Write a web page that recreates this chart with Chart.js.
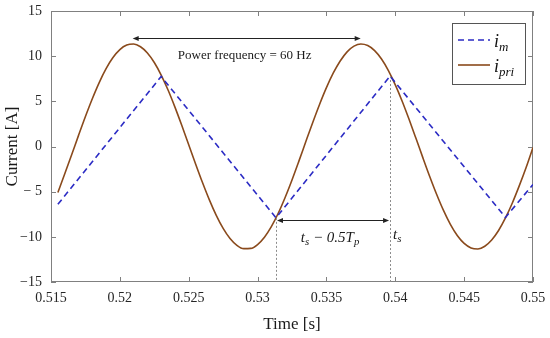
<!DOCTYPE html>
<html>
<head>
<meta charset="utf-8">
<script src="https://cdn.jsdelivr.net/npm/chart.js@4.4.0/dist/chart.umd.min.js"></script>
<style>
body { margin: 0; background: #fff; }
</style>
</head>
<body>
<canvas id="myChart" width="550" height="338"></canvas>
<script>
// axis ticks
const xTicks = [0.515, 0.52, 0.525, 0.53, 0.535, 0.54, 0.545, 0.55];
const xTickLabels = ['0.515', '0.52', '0.525', '0.53', '0.535', '0.54', '0.545', '0.55'];
const yTicks = [-15, -10, -5, 0, 5, 10, 15];
const yTickLabels = ['\u221215', '\u221210', '\u2212 5', '0', '5', '10', '15'];

// i_pri
const priTime = [0.5155, 0.516, 0.5165, 0.517, 0.5175, 0.518, 0.5185, 0.519, 0.5195, 0.52,
  0.5205, 0.521, 0.5215, 0.522, 0.5225, 0.523, 0.5235, 0.524, 0.5245, 0.525,
  0.5255, 0.526, 0.5265, 0.527, 0.5275, 0.528, 0.5285, 0.529, 0.5295, 0.53,
  0.5305, 0.531, 0.5315, 0.532, 0.5325, 0.533, 0.5335, 0.534, 0.5345, 0.535,
  0.5355, 0.536, 0.5365, 0.537, 0.5375, 0.538, 0.5385, 0.539, 0.5395, 0.54,
  0.5405, 0.541, 0.5415, 0.542, 0.5425, 0.543, 0.5435, 0.544, 0.5445, 0.545,
  0.5455, 0.546, 0.5465, 0.547, 0.5475, 0.548, 0.5485, 0.549, 0.5495, 0.55];
const priCurrent = [-5.1, -3.01, -0.91, 1.23, 3.32, 5.29, 7.08, 8.62, 9.85, 10.73,
  11.23, 11.34, 11.04, 10.35, 9.3, 7.91, 6.25, 4.36, 2.32, 0.2,
  -1.93, -3.99, -5.91, -7.62, -9.06, -10.18, -10.94, -11.31, -11.28, -10.85,
  -10.04, -8.87, -7.39, -5.64, -3.7, -1.62, 0.52, 2.63, 4.65, 6.51,
  8.14, 9.47, 10.48, 11.11, 11.35, 11.18, 10.62, 9.69, 8.41, 6.83,
  5.01, 3.01, 0.91, -1.23, -3.32, -5.29, -7.08, -8.62, -9.85, -10.73,
  -11.23, -11.34, -11.04, -10.35, -9.3, -7.91, -6.25, -4.36, -2.32, -0.1];

// i_m (corners of the triangle wave)
const magTime = [0.5155, 0.523, 0.53134, 0.53962, 0.548, 0.55];
const magCurrent = [-6.4, 7.75, -7.9, 7.8, -7.85, -4.2];

// annotations
const peakTimes = [0.52086, 0.53756];
const peakArrowY = 12.05;
const tsStart = 0.53134;
const tsTime = 0.53962;
const tsArrowY = -8.15;

const serif = "'Liberation Serif', 'Times New Roman', serif";

function drawRich(ctx, parts, x, y, align, size) {
  // parts: [text, isSub]
  let w = 0;
  parts.forEach(p => {
    ctx.font = 'italic ' + (p[1] ? size * 0.72 : size) + 'px ' + serif;
    w += ctx.measureText(p[0]).width;
  });
  let cx = align === 'center' ? x - w / 2 : x;
  parts.forEach(p => {
    ctx.font = 'italic ' + (p[1] ? size * 0.72 : size) + 'px ' + serif;
    ctx.fillText(p[0], cx, p[1] ? y + size * 0.3 : y);
    cx += ctx.measureText(p[0]).width;
  });
}

function arrowHead(ctx, x, y, dir) {
  ctx.beginPath();
  ctx.moveTo(x, y);
  ctx.lineTo(x - dir * 6, y - 2.5);
  ctx.lineTo(x - dir * 6, y + 2.5);
  ctx.closePath();
  ctx.fill();
}

const frame = {
  id: 'frame',
  beforeDatasetsDraw(chart) {
    const {ctx, chartArea: a, scales: {x, y}} = chart;
    ctx.save();
    ctx.strokeStyle = '#808080';
    ctx.lineWidth = 1;
    ctx.strokeRect(a.left + 0.5, a.top + 0.5, a.width - 1, a.height - 1);
    ctx.beginPath();
    xTicks.forEach(v => {
      const px = Math.round(x.getPixelForValue(v)) + 0.5;
      ctx.moveTo(px, a.bottom); ctx.lineTo(px, a.bottom - 5);
      ctx.moveTo(px, a.top); ctx.lineTo(px, a.top + 5);
    });
    yTicks.forEach(v => {
      const py = Math.round(y.getPixelForValue(v)) + 0.5;
      ctx.moveTo(a.left, py); ctx.lineTo(a.left + 5, py);
      ctx.moveTo(a.right, py); ctx.lineTo(a.right - 5, py);
    });
    ctx.stroke();
    ctx.restore();
  },
  afterDatasetsDraw(chart) {
    const {ctx, chartArea: a, scales: {x, y}} = chart;
    ctx.save();

    // dotted guide lines
    ctx.strokeStyle = '#8c8c8c';
    ctx.lineWidth = 1;
    ctx.setLineDash([2, 2]);
    ctx.beginPath();
    let px = Math.round(x.getPixelForValue(tsStart)) + 0.5;
    ctx.moveTo(px, y.getPixelForValue(-7.9)); ctx.lineTo(px, a.bottom);
    px = Math.round(x.getPixelForValue(tsTime)) + 0.5;
    ctx.moveTo(px, y.getPixelForValue(7.8)); ctx.lineTo(px, a.bottom);
    ctx.stroke();
    ctx.setLineDash([]);

    // arrows
    ctx.strokeStyle = '#222';
    ctx.fillStyle = '#222';
    const arrows = [[peakTimes[0], peakTimes[1], peakArrowY], [tsStart, tsTime, tsArrowY]];
    arrows.forEach(r => {
      const x1 = x.getPixelForValue(r[0]) + 1, x2 = x.getPixelForValue(r[1]) - 1;
      const py = Math.round(y.getPixelForValue(r[2])) + 0.5;
      ctx.beginPath();
      ctx.moveTo(x1 + 4, py); ctx.lineTo(x2 - 4, py);
      ctx.stroke();
      arrowHead(ctx, x1, py, -1);
      arrowHead(ctx, x2, py, 1);
    });

    // labels
    ctx.fillStyle = '#1a1a1a';
    ctx.textBaseline = 'middle';
    ctx.textAlign = 'center';
    ctx.font = '13px ' + serif;
    ctx.fillText('Power frequency = 60 Hz', x.getPixelForValue((peakTimes[0] + peakTimes[1]) / 2) - 2, y.getPixelForValue(10.1));
    ctx.textAlign = 'left';
    drawRich(ctx, [['t', 0], ['s', 1], [' \u2212 0.5', 0], ['T', 0], ['p', 1]],
      x.getPixelForValue((tsStart + tsTime) / 2) - 3, y.getPixelForValue(-10.1), 'center', 15);
    drawRich(ctx, [['t', 0], ['s', 1]], x.getPixelForValue(tsTime) + 3, y.getPixelForValue(-9.8), 'left', 15);

    // legend
    const bx = a.right - 81, by = a.top + 12, bw = 73, bh = 61;
    ctx.fillStyle = '#fff';
    ctx.fillRect(bx, by, bw, bh);
    ctx.strokeStyle = '#555';
    ctx.strokeRect(bx + 0.5, by + 0.5, bw, bh);
    const items = chart.data.datasets;
    items.forEach((d, i) => {
      const ly = by + 17 + i * 25;
      ctx.strokeStyle = d.borderColor;
      ctx.lineWidth = 1.6;
      ctx.setLineDash(d.borderDash || []);
      ctx.beginPath();
      ctx.moveTo(bx + 6, ly); ctx.lineTo(bx + 38, ly);
      ctx.stroke();
      ctx.setLineDash([]);
      ctx.fillStyle = '#111';
      drawRich(ctx, d.richLabel, bx + 42, ly + 2, 'left', 18);
    });
    ctx.restore();
  }
};

const ctx = document.getElementById('myChart').getContext('2d');
const myChart = new Chart(ctx, {
  type: 'line',
  data: {
    datasets: [{
      label: 'i_m',
      richLabel: [['i', 0], ['m', 1]],
      data: magTime.map((t, i) => ({x: t, y: magCurrent[i]})),
      borderColor: '#2b2bc4',
      borderWidth: 1.6,
      borderDash: [6, 4],
      pointRadius: 0,
      tension: 0
    }, {
      label: 'i_pri',
      richLabel: [['i', 0], ['pri', 1]],
      data: priTime.map((t, i) => ({x: t, y: priCurrent[i]})),
      borderColor: '#8a4a1c',
      borderWidth: 1.6,
      pointRadius: 0,
      cubicInterpolationMode: 'monotone'
    }]
  },
  options: {
    responsive: false,
    animation: false,
    layout: { padding: { top: 11, right: 17, left: 0, bottom: 0 } },
    plugins: { legend: { display: false }, tooltip: { enabled: false } },
    scales: {
      x: {
        type: 'linear',
        min: 0.515,
        max: 0.55,
        afterBuildTicks: s => { s.ticks = xTicks.map(v => ({value: v})); },
        afterFit: s => { s.height = 56; s.paddingLeft = 0; s.paddingRight = 0; },
        grid: { display: false, drawTicks: false },
        border: { display: false },
        ticks: {
          padding: 8,
          color: '#262626',
          font: { family: serif, size: 14 },
          maxRotation: 0,
          callback: (v, i) => xTickLabels[i]
        },
        title: {
          display: true,
          text: 'Time [s]',
          color: '#1a1a1a',
          font: { family: serif, size: 17 },
          padding: { top: 0, bottom: 3 }
        }
      },
      y: {
        min: -15,
        max: 15,
        afterBuildTicks: s => { s.ticks = yTicks.map(v => ({value: v})); },
        afterFit: s => { s.width = 51; s.paddingTop = 0; s.paddingBottom = 0; },
        grid: { display: false, drawTicks: false },
        border: { display: false },
        ticks: {
          padding: 9,
          color: '#262626',
          font: { family: serif, size: 14 },
          callback: (v, i) => yTickLabels[i]
        },
        title: {
          display: true,
          text: 'Current [A]',
          color: '#1a1a1a',
          font: { family: serif, size: 17 },
          padding: { top: 2, bottom: 0 }
        }
      }
    }
  },
  plugins: [frame]
});
</script>
</body>
</html>
